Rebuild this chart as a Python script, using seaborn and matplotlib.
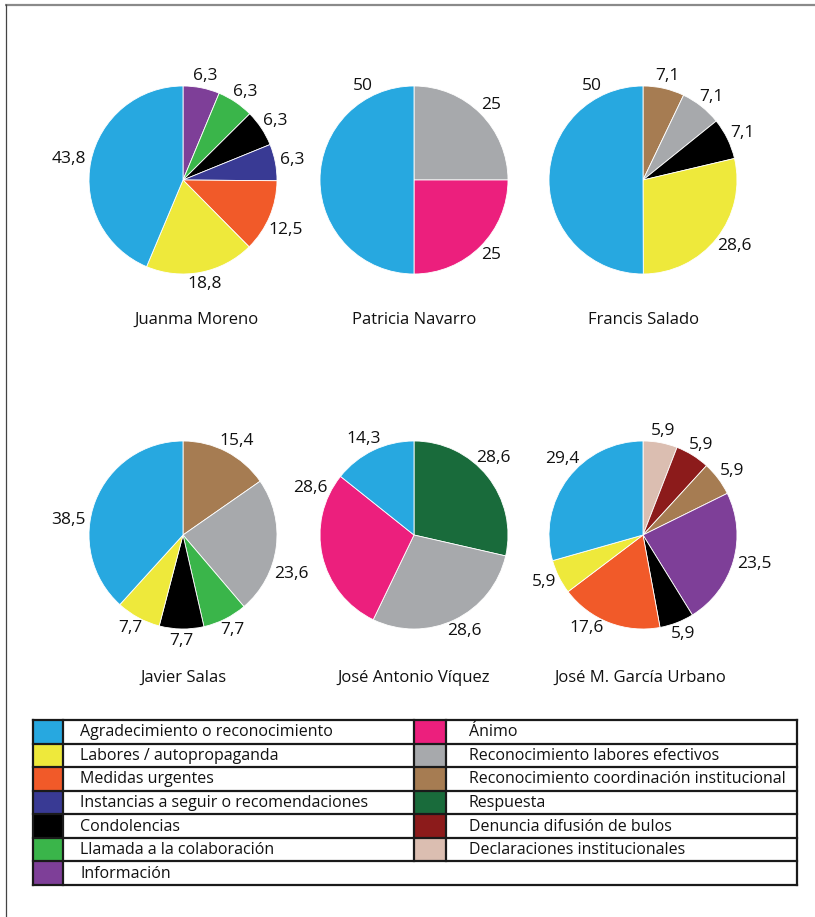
import matplotlib
matplotlib.use("Agg")
import matplotlib.pyplot as plt
import seaborn as sns
import numpy as np
from matplotlib.patches import Rectangle

# ---------------------------------------------------------------- data
categories = [
    "Agradecimiento o reconocimiento",
    "Labores / autopropaganda",
    "Medidas urgentes",
    "Instancias a seguir o recomendaciones",
    "Condolencias",
    "Llamada a la colaboración",
    "Información",
    "Ánimo",
    "Reconocimiento labores efectivos",
    "Reconocimiento coordinación institucional",
    "Respuesta",
    "Denuncia difusión de bulos",
    "Declaraciones institucionales",
]
category_colors = [
    "#27A8E0", "#EEE93B", "#F15A29", "#393A94", "#000000", "#3AB54A", "#7E3F98",
    "#EC1F7D", "#A7A9AC", "#A67C52", "#196B3B", "#8C1B1B", "#DBBEB1",
]

speakers = [
    "Juanma Moreno", "Patricia Navarro", "Francis Salado",
    "Javier Salas", "José Antonio Víquez", "José M. García Urbano",
]

# slices are listed clockwise starting at 12 o'clock
juanma_cats = ["Información", "Llamada a la colaboración", "Condolencias",
               "Instancias a seguir o recomendaciones", "Medidas urgentes",
               "Labores / autopropaganda", "Agradecimiento o reconocimiento"]
juanma_vals = [6.3, 6.3, 6.3, 6.3, 12.5, 18.8, 43.8]

patricia_cats = ["Reconocimiento labores efectivos", "Ánimo",
                 "Agradecimiento o reconocimiento"]
patricia_vals = [25, 25, 50]

francis_cats = ["Reconocimiento coordinación institucional",
                "Reconocimiento labores efectivos", "Condolencias",
                "Labores / autopropaganda", "Agradecimiento o reconocimiento"]
francis_vals = [7.1, 7.1, 7.1, 28.6, 50]

javier_cats = ["Reconocimiento coordinación institucional",
               "Reconocimiento labores efectivos", "Llamada a la colaboración",
               "Condolencias", "Labores / autopropaganda",
               "Agradecimiento o reconocimiento"]
javier_vals = [15.4, 23.6, 7.7, 7.7, 7.7, 38.5]

viquez_cats = ["Respuesta", "Reconocimiento labores efectivos", "Ánimo",
               "Agradecimiento o reconocimiento"]
viquez_vals = [28.6, 28.6, 28.6, 14.3]

garcia_cats = ["Declaraciones institucionales", "Denuncia difusión de bulos",
               "Reconocimiento coordinación institucional", "Información",
               "Condolencias", "Medidas urgentes", "Labores / autopropaganda",
               "Agradecimiento o reconocimiento"]
garcia_vals = [5.9, 5.9, 5.9, 23.5, 5.9, 17.6, 5.9, 29.4]

pie_cats = [juanma_cats, patricia_cats, francis_cats, javier_cats, viquez_cats, garcia_cats]
pie_vals = [juanma_vals, patricia_vals, francis_vals, javier_vals, viquez_vals, garcia_vals]

# ---------------------------------------------------------------- layout
W, H = 815, 917
R_PX = 94                      # pie radius in pixels
HALF = 1.6                     # axes half-extent in pie radii
centers = [(183, 180), (414, 180), (643, 180),
           (183, 535), (414, 535), (643, 535)]
title_y = [320, 320, 320, 678, 678, 678]
title_dx = [13, 0, 0, 0, 0, -3]

# extra rotation (degrees, clockwise) for labels that sit away from the slice middle
label_turn = {
    (0, 4): 5,
    (1, 2): 62,
    (2, 4): 62,
    (3, 1): 14, (3, 5): -13,
    (4, 0): -8, (4, 2): 39,
    (5, 5): 8, (5, 7): 9,
}

sns.set_theme(style="white")
plt.rcParams["font.family"] = ["Open Sans", "DejaVu Sans"]
TEXT_WEIGHT = 500

palette = dict(zip(categories, sns.color_palette(category_colors)))

fig = plt.figure(figsize=(W / 100, H / 100), dpi=100)
renderer = fig.canvas.get_renderer()


def fmt(v):
    return f"{v:g}".replace(".", ",")


for k, (cats, vals) in enumerate(zip(pie_cats, pie_vals)):
    cx, cy = centers[k]
    side = 2 * HALF * R_PX
    ax = fig.add_axes([(cx - side / 2) / W, 1 - (cy + side / 2) / H, side / W, side / H])
    ax.pie(vals, colors=[palette[c] for c in cats], startangle=90,
           counterclock=False, radius=1.0,
           wedgeprops=dict(edgecolor="white", linewidth=0.6))
    ax.set_xlim(-HALF, HALF)
    ax.set_ylim(-HALF, HALF)
    ax.set_aspect("equal")
    ax.axis("off")

    total = float(np.sum(vals))
    cum = np.cumsum([0] + list(vals))
    for i, v in enumerate(vals):
        theta = (cum[i] + v / 2) / total * 360 + label_turn.get((k, i), 0)
        th = np.deg2rad(theta)
        ux, uy = np.sin(th), np.cos(th)
        t = ax.text(0, 0, fmt(v), ha="center", va="center", fontsize=12.5,
                    color="#111111", fontweight=TEXT_WEIGHT)
        bb = t.get_window_extent(renderer)
        w = bb.width / R_PX
        h = 15 / R_PX
        d = 1.05
        t.set_position((d * ux + 0.5 * w * ux, d * uy + 0.5 * h * uy))

    fig.text((cx + title_dx[k]) / W, 1 - title_y[k] / H, speakers[k],
             ha="center", va="center", fontsize=12, color="#111111",
             fontweight=TEXT_WEIGHT)

# ---------------------------------------------------------------- legend table
lax = fig.add_axes([0, 0, 1, 1], zorder=-1)
lax.set_xlim(0, W)
lax.set_ylim(H, 0)
lax.axis("off")

# page frame
lax.plot([5, W], [4.5, 4.5], color="#8a8a8a", lw=1.6, solid_capstyle="butt")
lax.plot([5.5, 5.5], [4, H], color="#444444", lw=0.9, solid_capstyle="butt")

top, row_h = 720, 23.57
x0, x1, x2, x3, x4 = 33, 63, 414, 446, 797
n_rows = 7
left_items = categories[:7]
right_items = categories[7:]
line_kw = dict(color="#1a1a1a", lw=1.6, solid_capstyle="projecting")

for r, name in enumerate(left_items):
    y = top + r * row_h
    lax.add_patch(Rectangle((x0, y), x1 - x0, row_h, facecolor=palette[name],
                            edgecolor="none"))
    lax.text(80, y + row_h / 2 + 0.5, name, ha="left", va="center", fontsize=11.5,
             color="#111111", fontweight=TEXT_WEIGHT)
for r, name in enumerate(right_items):
    y = top + r * row_h
    lax.add_patch(Rectangle((x2, y), x3 - x2, row_h, facecolor=palette[name],
                            edgecolor="none"))
    lax.text(469, y + row_h / 2 + 0.5, name, ha="left", va="center", fontsize=11.5,
             color="#111111", fontweight=TEXT_WEIGHT)

bottom = top + n_rows * row_h
for r in range(n_rows + 1):
    y = top + r * row_h
    lax.plot([x0, x4], [y, y], **line_kw)
for x in (x0, x1, x4):
    lax.plot([x, x], [top, bottom], **line_kw)
for x in (x2, x3):
    lax.plot([x, x], [top, top + len(right_items) * row_h], **line_kw)

fig.savefig("out.png", dpi=100, facecolor="white")
